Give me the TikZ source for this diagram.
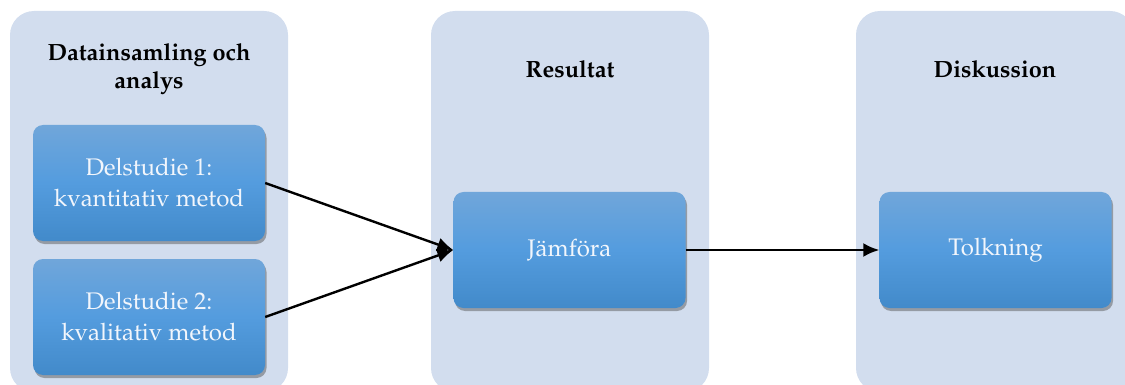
\documentclass[tikz,border=0pt]{standalone}
\usepackage[T1]{fontenc}
\DeclareFontFamily{T1}{myppl}{}
\DeclareFontShape{T1}{myppl}{m}{n}{<-> pplr8t}{}
\DeclareFontShape{T1}{myppl}{b}{n}{<-> pplb8t}{}
\DeclareFontShape{T1}{myppl}{bx}{n}{<-> ssub * myppl/b/n}{}
\renewcommand\rmdefault{myppl}
\renewcommand\bfdefault{b}
\usetikzlibrary{shadows,arrows.meta}
\definecolor{panelbg}{RGB}{210,221,238}
\definecolor{boxtop}{RGB}{112,166,218}
\definecolor{boxmid}{RGB}{84,156,222}
\definecolor{boxbot}{RGB}{66,138,202}
\definecolor{boxtext}{RGB}{242,246,252}
\tikzset{
  panel/.style={fill=panelbg, rounded corners=24pt},
  title/.style={font=\fontsize{23.5}{28}\selectfont\bfseries, align=center, text=black},
  bluebox/.style={rounded corners=10pt, draw=none, minimum width=232pt, minimum height=116pt,
    top color=boxtop, bottom color=boxbot, middle color=boxmid,
    drop shadow={shadow xshift=1.5pt, shadow yshift=-3pt, opacity=0.45, fill=black!70},
    text=boxtext, align=center, font=\fontsize{24}{31}\selectfont},
  conn/.style={line width=2.4pt, -{Latex[length=16pt,width=14pt]}}
}
\begin{document}
\begin{tikzpicture}[x=1pt,y=-1pt]
\useasboundingbox (0,0) rectangle (1125,385);
\begin{scope}
\clip (0,0) rectangle (1125,385);
\fill[panel] (10,11) rectangle (288,392);
\fill[panel] (431,11) rectangle (709,392);
\fill[panel] (856,11) rectangle (1134,392);
\end{scope}
\node[title] (t1) at (149,69) {Datainsamling och\\analys};
\node[title] (t2) at (570,69) {Resultat};
\node[title] (t3) at (995,69) {Diskussion};
\node[bluebox] (d1) at (149,183) {Delstudie 1:\\kvantitativ metod};
\node[bluebox] (d2) at (149,317) {Delstudie 2:\\kvalitativ metod};
\node[bluebox] (jf) at (569.5,250) {Jämföra};
\node[bluebox] (tk) at (995.5,250) {Tolkning};
\draw[conn] (d1.east) -- (jf.west);
\draw[conn] (d2.east) -- (jf.west);
\draw[conn] (jf.east) -- (tk.west);
\end{tikzpicture}
\end{document}
